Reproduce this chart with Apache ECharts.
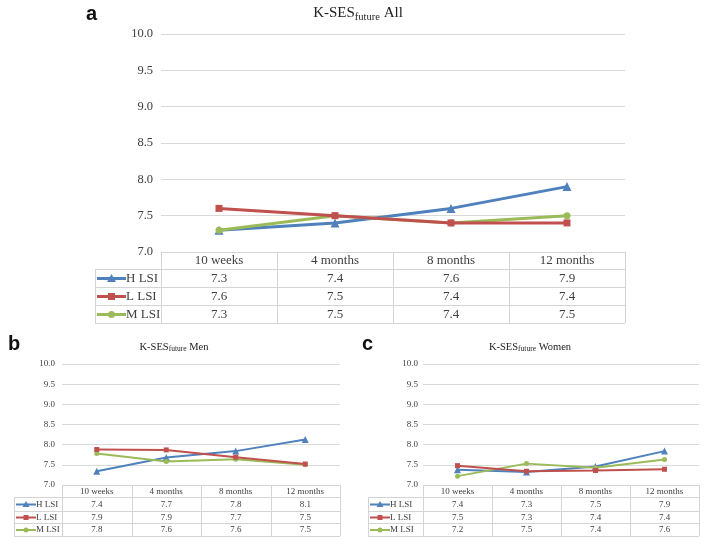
<!DOCTYPE html>
<html><head><meta charset="utf-8">
<script src="https://cdn.jsdelivr.net/npm/echarts@6/dist/echarts.min.js"></script>
<style>html,body{margin:0;padding:0;background:#fff}#c{width:706px;height:548px}</style>
</head><body><div id="c"></div>
<script>
// ---- data ----
const categories = ['10 weeks', '4 months', '8 months', '12 months'];
const seriesNames = ['H LSI', 'L LSI', 'M LSI'];
const yTickMin = 7.0, yTickMax = 10.0, yTickStep = 0.5;

const allH = [7.3, 7.4, 7.6, 7.9];
const allL = [7.6, 7.5, 7.4, 7.4];
const allM = [7.3, 7.5, 7.4, 7.5];
const allTableH = ['7.3', '7.4', '7.6', '7.9'];
const allTableL = ['7.6', '7.5', '7.4', '7.4'];
const allTableM = ['7.3', '7.5', '7.4', '7.5'];

const menH = [7.34, 7.68, 7.84, 8.13];
const menL = [7.88, 7.87, 7.69, 7.52];
const menM = [7.78, 7.58, 7.64, 7.50];
const menTableH = ['7.4', '7.7', '7.8', '8.1'];
const menTableL = ['7.9', '7.9', '7.7', '7.5'];
const menTableM = ['7.8', '7.6', '7.6', '7.5'];

const womenH = [7.38, 7.32, 7.46, 7.84];
const womenL = [7.48, 7.34, 7.36, 7.39];
const womenM = [7.22, 7.53, 7.43, 7.63];
const womenTableH = ['7.4', '7.3', '7.5', '7.9'];
const womenTableL = ['7.5', '7.3', '7.4', '7.4'];
const womenTableM = ['7.2', '7.5', '7.4', '7.6'];

// ---- layout / style ----
const colors = ['#4F81BD', '#C0504D', '#9BBB59'];
const symbols = ['triangle', 'rect', 'circle'];
const SERIF = '"Liberation Serif", "Times New Roman", serif';
const SANS = '"Liberation Sans", Arial, sans-serif';
const TXT = '#404040';
const GRIDC = '#d9d9d9';
const BORDER = '#d4d4d4';

const panels = [
  { tag: 'a', title: 'All', series: [allH, allL, allM], table: [allTableH, allTableL, allTableM],
    left: 161, top: 34, width: 464, height: 218, tableLeft: 95, rowH: [17, 18, 18, 18],
    tagX: 86, tagY: 14, titleX: 358, titleY: 13, titleSize: 15, subSize: 10.5,
    ySize: 12.5, yMargin: 8, cellSize: 13, lw: 3, sym: 7, keyLen: 29 },
  { tag: 'b', title: 'Men', series: [menH, menL, menM], table: [menTableH, menTableL, menTableM],
    left: 62, top: 364, width: 278, height: 121, tableLeft: 14, rowH: [12, 14, 12, 13],
    tagX: 8, tagY: 344, titleX: 174, titleY: 347, titleSize: 10.5, subSize: 7.5,
    ySize: 9, yMargin: 7, cellSize: 9, lw: 2, sym: 5, keyLen: 20 },
  { tag: 'c', title: 'Women', series: [womenH, womenL, womenM], table: [womenTableH, womenTableL, womenTableM],
    left: 423, top: 364, width: 276, height: 121, tableLeft: 368, rowH: [12, 14, 12, 13],
    tagX: 362, tagY: 344, titleX: 530, titleY: 347, titleSize: 10.5, subSize: 7.5,
    ySize: 9, yMargin: 5, cellSize: 9, lw: 2, sym: 5, keyLen: 20 }
];

const grid = [], xAxis = [], yAxis = [], series = [];
panels.forEach((p, i) => {
  grid.push({ left: p.left, top: p.top, width: p.width, height: p.height, containLabel: false });
  xAxis.push({ type: 'category', gridIndex: i, data: categories, boundaryGap: true,
    axisLine: { show: false }, axisTick: { show: false }, axisLabel: { show: false }, splitLine: { show: false } });
  yAxis.push({ type: 'value', gridIndex: i, min: yTickMin, max: yTickMax, interval: yTickStep,
    axisLine: { show: false }, axisTick: { show: false },
    axisLabel: { fontFamily: SERIF, fontSize: p.ySize, color: TXT, margin: p.yMargin,
      formatter: v => v.toFixed(1) },
    splitLine: { lineStyle: { color: GRIDC, width: 1 } } });
  p.series.forEach((d, k) => {
    series.push({ type: 'line', name: seriesNames[k], xAxisIndex: i, yAxisIndex: i, data: d,
      symbol: symbols[k], symbolSize: k === 0 ? p.sym + 2 : p.sym, showSymbol: true,
      lineStyle: { color: colors[k], width: p.lw }, itemStyle: { color: colors[k] },
      z: 3 + (k === 2 ? 0 : k), animation: false });
  });
});

const chart = echarts.init(document.getElementById('c'), null, { renderer: 'canvas' });
chart.setOption({ animation: false, grid, xAxis, yAxis, series });

// ---- tables, titles, tags ----
const graphic = [];
function hline(x1, x2, y) { graphic.push({ type: 'line', silent: true, shape: { x1, y1: y + 0.5, x2, y2: y + 0.5 }, style: { stroke: BORDER, lineWidth: 1 } }); }
function vline(x, y1, y2) { graphic.push({ type: 'line', silent: true, shape: { x1: x + 0.5, y1, x2: x + 0.5, y2 }, style: { stroke: BORDER, lineWidth: 1 } }); }
function text(x, y, t, font, fill, align) {
  graphic.push({ type: 'text', silent: true, x, y, style: { text: t, font, fill, align: align || 'center', verticalAlign: 'middle', textAlign: align || 'center', textVerticalAlign: 'middle' } });
}

panels.forEach((p, i) => {
  const right = p.left + p.width;
  const y0 = p.top + p.height;
  const ys = [y0];
  p.rowH.forEach(h => ys.push(ys[ys.length - 1] + h));
  hline(p.left, right, ys[0]);
  for (let r = 1; r < ys.length; r++) hline(p.tableLeft, right, ys[r]);
  vline(p.tableLeft, ys[1], ys[4]);
  for (let c = 0; c <= categories.length; c++) {
    vline(Math.round(p.left + c * p.width / categories.length), ys[0], ys[4]);
  }
  const cellFont = p.cellSize + 'px ' + SERIF;
  categories.forEach((cat, c) => {
    const cx = chart.convertToPixel({ xAxisIndex: i }, cat);
    text(cx, (ys[0] + ys[1]) / 2 + 0.5, cat, cellFont, TXT);
    p.table.forEach((col, k) => {
      text(cx, (ys[k + 1] + ys[k + 2]) / 2 + 0.5, col[c], cellFont, TXT);
    });
  });
  seriesNames.forEach((nm, k) => {
    const cy = (ys[k + 1] + ys[k + 2]) / 2 + 0.5;
    const kx1 = p.tableLeft + 2, kx2 = kx1 + p.keyLen;
    graphic.push({ type: 'line', silent: true, shape: { x1: kx1, y1: cy, x2: kx2, y2: cy }, style: { stroke: colors[k], lineWidth: p.lw } });
    const mx = (kx1 + kx2) / 2, s = p.sym / 2;
    if (k === 0) graphic.push({ type: 'polygon', silent: true, shape: { points: [[mx, cy - s - 1], [mx - s - 1, cy + s], [mx + s + 1, cy + s]] }, style: { fill: colors[k] } });
    else if (k === 1) graphic.push({ type: 'rect', silent: true, shape: { x: mx - s, y: cy - s, width: 2 * s, height: 2 * s }, style: { fill: colors[k] } });
    else graphic.push({ type: 'circle', silent: true, shape: { cx: mx, cy, r: s }, style: { fill: colors[k] } });
    text(kx2, cy, nm, cellFont, TXT, 'left');
  });
  const mainLH = Math.round(p.titleSize * 1.25);
  graphic.push({ type: 'text', silent: true, x: p.titleX, y: p.titleY,
    style: { text: '{m|K-SES}{s|future}{m| ' + p.title + '}', align: 'center', verticalAlign: 'middle',
      textAlign: 'center', textVerticalAlign: 'middle',
      rich: {
        m: { fontFamily: SERIF, fontSize: p.titleSize, fill: '#222', color: '#222', lineHeight: mainLH, verticalAlign: 'middle' },
        s: { fontFamily: SERIF, fontSize: p.subSize, fill: '#222', color: '#222', lineHeight: p.subSize, verticalAlign: 'bottom' }
      } } });
  text(p.tagX, p.tagY, p.tag, 'bold 20px ' + SANS, '#111', 'left');
});

chart.setOption({ graphic });
</script></body></html>
